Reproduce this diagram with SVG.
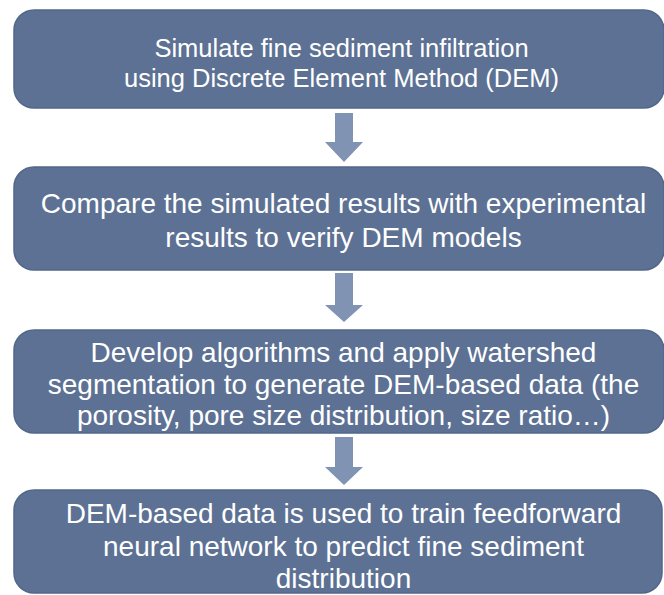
<svg xmlns="http://www.w3.org/2000/svg" width="664" height="595" viewBox="0 0 664 595">
<style>
.box{fill:#5c7193;stroke:#52678a;stroke-width:1.5}
.t{font-family:"Liberation Sans",Arial,sans-serif;font-size:28px;fill:#ffffff;text-anchor:middle}
.s{font-size:25.5px}
.arr{fill:#8093b2}
</style>
<rect width="664" height="595" fill="#ffffff"/>
<g id="node1"><rect class="box" x="14" y="10" width="650" height="98" rx="20"/>
<text class="t s" x="341.5" y="57">Simulate fine sediment infiltration</text>
<text class="t s" x="341.5" y="87">using Discrete Element Method (DEM)</text></g>
<g id="node2"><rect class="box" x="14" y="167" width="650" height="103" rx="20"/>
<text class="t" x="343.5" y="213">Compare the simulated results with experimental</text>
<text class="t" x="343.5" y="247">results to verify DEM models</text></g>
<g id="node3"><rect class="box" x="14" y="330" width="650" height="103" rx="20"/>
<text class="t" x="343.5" y="362">Develop algorithms and apply watershed</text>
<text class="t" x="343.5" y="394">segmentation to generate DEM-based data (the</text>
<text class="t" x="343.5" y="425">porosity, pore size distribution, size ratio…)</text></g>
<g id="node4"><rect class="box" x="14" y="490" width="648" height="103" rx="20"/>
<text class="t" x="343.5" y="523">DEM-based data is used to train feedforward</text>
<text class="t" x="343.5" y="556">neural network to predict fine sediment</text>
<text class="t" x="343.5" y="588">distribution</text></g>
<g id="connectors">
<polygon class="arr" points="335,113 353,113 353,142 363,142 344,162 325,142 335,142"/>
<polygon class="arr" points="335,273 353,273 353,305 363,305 344,322 325,305 335,305"/>
<polygon class="arr" points="335,437 353,437 353,467 363,467 344,485 325,467 335,467"/>
</g>
</svg>
